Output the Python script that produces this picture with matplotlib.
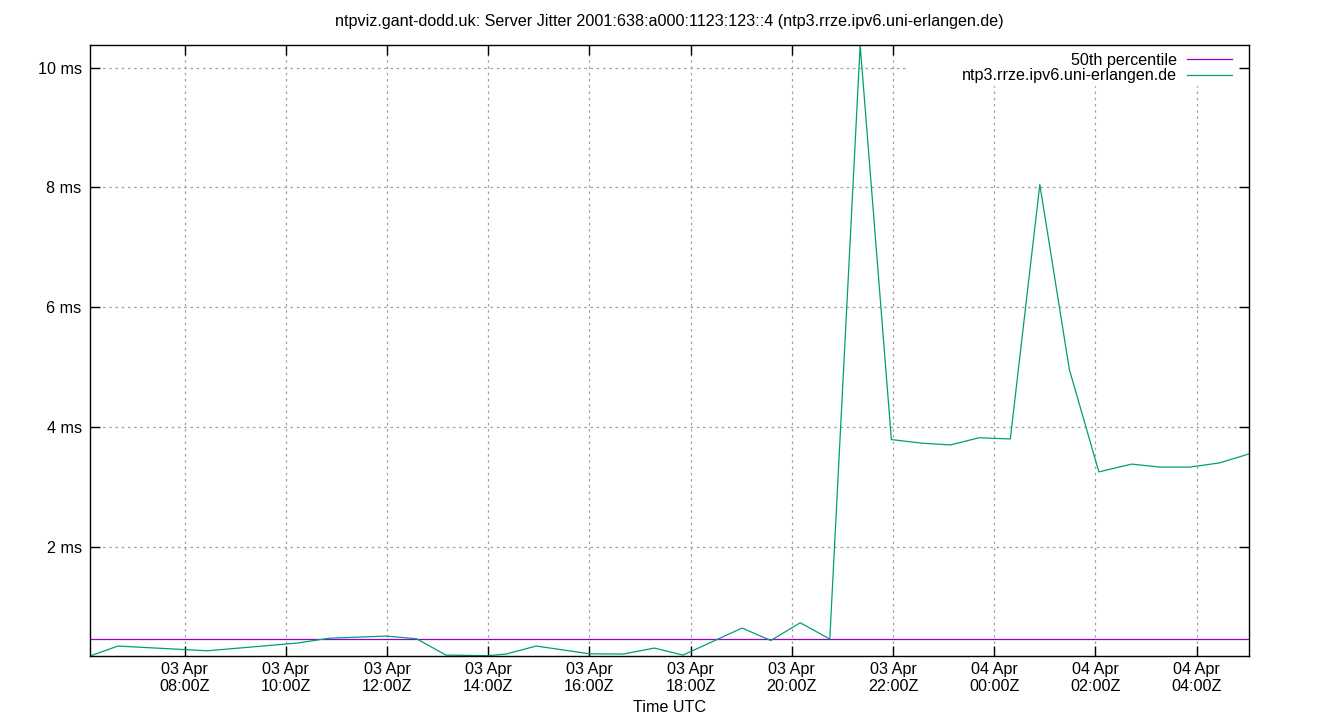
import matplotlib
matplotlib.use("Agg")
import matplotlib.pyplot as plt
import matplotlib.dates as mdates
from matplotlib.patches import Rectangle
import pandas as pd

plt.rcParams['font.family'] = ['Liberation Sans', 'DejaVu Sans']

title = "ntpviz.gant-dodd.uk: Server Jitter 2001:638:a000:1123:123::4 (ntp3.rrze.ipv6.uni-erlangen.de)"
server_name = "ntp3.rrze.ipv6.uni-erlangen.de"
pct_name = "50th percentile"

# sample times (UTC) and jitter in ms
times = [
    "2025-04-03 06:08", "2025-04-03 06:41", "2025-04-03 08:27", "2025-04-03 10:14",
    "2025-04-03 10:51", "2025-04-03 11:59", "2025-04-03 12:35", "2025-04-03 13:10",
    "2025-04-03 13:59", "2025-04-03 14:21", "2025-04-03 14:57", "2025-04-03 16:00",
    "2025-04-03 16:40", "2025-04-03 17:17", "2025-04-03 17:51", "2025-04-03 19:01",
    "2025-04-03 19:35", "2025-04-03 20:10", "2025-04-03 20:45", "2025-04-03 21:21",
    "2025-04-03 21:58", "2025-04-03 22:34", "2025-04-03 23:08", "2025-04-03 23:42",
    "2025-04-04 00:19", "2025-04-04 00:54", "2025-04-04 01:29", "2025-04-04 02:04",
    "2025-04-04 02:43", "2025-04-04 03:16", "2025-04-04 03:52", "2025-04-04 04:27",
    "2025-04-04 05:02",
]
jitter = [
    0.175, 0.341, 0.262, 0.391,
    0.471, 0.508, 0.463, 0.190,
    0.180, 0.207, 0.341, 0.212,
    0.207, 0.307, 0.190, 0.642,
    0.434, 0.730, 0.458, 10.38,
    3.79, 3.73, 3.70, 3.82,
    3.80, 8.05, 4.96, 3.25,
    3.38, 3.33, 3.33, 3.40,
    3.55,
]
p50 = 0.458

yticks = [2, 4, 6, 8, 10]

t = pd.to_datetime(times)
fs = 11.6

fig = plt.figure(figsize=(13.4, 7.2), dpi=100)
ax = fig.add_axes([0.0672, 0.0889, 0.8649, 0.8486])

ax.axhline(p50, color="#9400d3", lw=0.9, label=pct_name)
ax.plot(t, jitter, color="#009e73", lw=0.9, label=server_name)

ax.set_xlim(t[0], t[-1])
ax.set_ylim(min(jitter), max(jitter))

ax.set_yticks(yticks)
ax.set_yticklabels([f"{v} ms" for v in yticks])
ax.xaxis.set_major_locator(mdates.HourLocator(byhour=range(0, 24, 2)))
ax.xaxis.set_major_formatter(mdates.DateFormatter("%d %b\n%H:%MZ"))

ax.tick_params(direction="in", length=7, width=1, labelsize=fs, pad=6,
               top=True, right=True)
ax.tick_params(axis="x", pad=4)
for s in ax.spines.values():
    s.set_linewidth(1)
ax.grid(True, color="#a0a0a0", ls=(0, (2, 3)), lw=0.9)

# white key box like gnuplot, hides the grid behind the legend
ax.add_patch(Rectangle((0.7058, 0.933), 0.2847, 0.067, transform=ax.transAxes,
                       facecolor="white", edgecolor="none", zorder=1.8))

ax.set_title(title, fontsize=fs, pad=14)
ax.set_xlabel("Time UTC", fontsize=fs, labelpad=4.2)

leg = ax.legend(loc="upper right", bbox_to_anchor=(0.9853, 0.9877), markerfirst=False,
                fontsize=fs, frameon=False, handlelength=2.8, handletextpad=0.6,
                borderpad=0, labelspacing=0.05, borderaxespad=0)

fig.savefig("out.png", dpi=100)
